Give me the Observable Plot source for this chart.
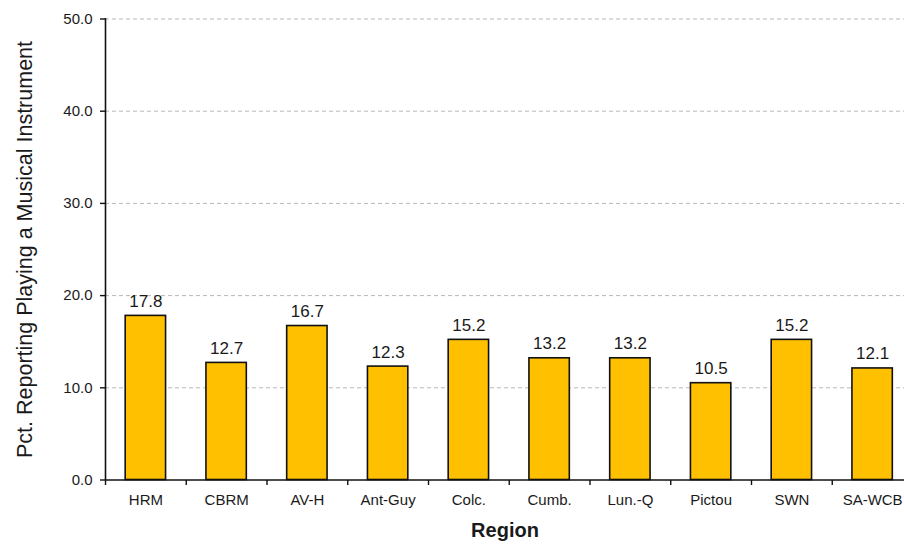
<!DOCTYPE html>
<html>
<head>
<meta charset="utf-8">
<script src="https://cdn.jsdelivr.net/npm/d3@7"></script>
<script src="https://cdn.jsdelivr.net/npm/@observablehq/plot@0.6"></script>
<style>
  html, body { margin: 0; padding: 0; background: #fff; overflow: hidden; }
  #chart { width: 904px; height: 544px; overflow: hidden; }
</style>
</head>
<body>
<div id="chart"></div>
<script>
const regions = ["HRM", "CBRM", "AV-H", "Ant-Guy", "Colc.", "Cumb.", "Lun.-Q", "Pictou", "SWN", "SA-WCB"];
const values = [17.8, 12.7, 16.7, 12.3, 15.2, 13.2, 13.2, 10.5, 15.2, 12.1];
const yTicks = [0, 10, 20, 30, 40, 50];
const yTitle = "Pct. Reporting Playing a Musical Instrument";
const xTitle = "Region";

const data = regions.map((r, i) => ({region: r, i, value: values[i]}));
const boundaries = d3.range(regions.length + 1);
const centers = regions.map((r, i) => i + 0.5);
const font = "Liberation Sans, Arial, sans-serif";

const chart = Plot.plot({
  width: 904,
  height: 544,
  marginLeft: 105,
  marginRight: 0,
  marginTop: 18,
  marginBottom: 64,
  style: {fontFamily: font, color: "#1a1a1a", background: "#fff", overflow: "hidden"},
  x: {domain: [0, regions.length], range: [105, 912.5], axis: null},
  y: {domain: [0, 50], range: [479.5, 18.5], axis: null},
  marks: [
    Plot.ruleY(yTicks.filter(d => d > 0), {stroke: "#b8b8b8", strokeWidth: 1, strokeDasharray: "4,3"}),
    Plot.rectY(data, {x1: d => d.i + 0.25, x2: d => d.i + 0.75, y1: 0, y2: "value", fill: "#FFC000", stroke: "#111", strokeWidth: 1.6}),
    Plot.text(data, {x: d => d.i + 0.5, y: "value", text: d => d.value.toFixed(1), dy: -9, lineAnchor: "bottom", fontSize: 17, fill: "#1a1a1a"}),
    Plot.ruleY([0], {stroke: "#111", strokeWidth: 1.6}),
    Plot.ruleX([0], {stroke: "#111", strokeWidth: 1.6}),
    Plot.axisX({ticks: boundaries, tickSize: 5, tickFormat: () => "", stroke: "#111", strokeWidth: 1.4}),
    Plot.axisX({ticks: centers, tickSize: 0, tickPadding: 14, tickFormat: d => regions[Math.round(d - 0.5)], fontSize: 15, label: null}),
    Plot.axisY({ticks: yTicks, tickSize: 5, tickPadding: 8, tickFormat: d3.format(".1f"), fontSize: 15, label: null, stroke: "#111", strokeWidth: 1.4}),
    Plot.text([xTitle], {frameAnchor: "bottom", dy: 56, fontSize: 20, fontWeight: "bold", fill: "#1a1a1a"}),
    Plot.text([yTitle], {frameAnchor: "left", textAnchor: "middle", rotate: -90, dx: -80, fontSize: 21.5, fill: "#1a1a1a"})
  ]
});
document.getElementById("chart").appendChild(chart);
</script>
</body>
</html>
